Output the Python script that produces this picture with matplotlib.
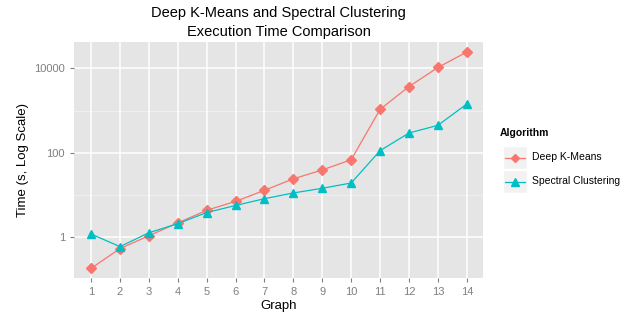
import matplotlib
matplotlib.use("Agg")
import matplotlib.pyplot as plt
from matplotlib.lines import Line2D
from matplotlib.patches import Rectangle

plt.rcParams['font.family'] = ['Liberation Sans', 'DejaVu Sans']

graphs = list(range(1, 15))
deep_kmeans = [0.18, 0.53, 1.07, 2.15, 4.3, 7.0, 12.8, 24, 39, 68, 1070, 3700, 10500, 24500]
spectral = [1.18, 0.59, 1.26, 2.07, 3.8, 5.6, 8.1, 11.1, 14.3, 19.1, 112, 293, 446, 1430]
y_ticks = [1, 100, 10000]
y_tick_labels = ["1", "100", "10000"]
series_names = ["Deep K-Means", "Spectral Clustering"]

red = "#F8766D"
cyan = "#00BFC4"
grey_txt = "#7F7F7F"

fig = plt.figure(figsize=(6.42, 3.2), dpi=100)
ax = fig.add_axes([74/642, 1-278/320, (483-74)/642, (278-42)/320])
ax.set_facecolor("#E5E5E5")
for s in ax.spines.values():
    s.set_visible(False)

ax.set_yscale("log")
ax.set_ylim(10**-0.973, 10**4.626)
ax.set_xlim(0.41, 14.56)

# grid: major and minor lines
for yv in [10, 1000]:
    ax.axhline(yv, color="#F2F2F2", lw=0.6, zorder=0)
for yv in y_ticks:
    ax.axhline(yv, color="white", lw=1.1, zorder=0)
for xv in graphs:
    ax.axvline(xv, color="white", lw=1.1, zorder=0)

ax.plot(graphs, deep_kmeans, color=red, lw=0.9, marker="D", ms=4.6, zorder=3)
ax.plot(graphs, spectral, color=cyan, lw=0.9, marker="^", ms=6.0, zorder=3)

ax.set_xticks(graphs)
ax.set_xticklabels([str(g) for g in graphs])
ax.set_yticks(y_ticks)
ax.set_yticklabels(y_tick_labels)
ax.yaxis.set_minor_locator(matplotlib.ticker.NullLocator())
ax.tick_params(axis="both", colors="#7F7F7F", labelcolor=grey_txt, labelsize=8, length=3, width=0.8)

ax.set_xlabel("Graph", fontsize=9.5, labelpad=2)
ax.set_ylabel("Time (s, Log Scale)", fontsize=9.5, labelpad=4)

fig.text(278.5/642, 1-13/320, "Deep K-Means and Spectral Clustering", ha="center", va="center", fontsize=10.5)
fig.text(278.5/642, 1-32/320, "Execution Time Comparison", ha="center", va="center", fontsize=10.5)

# legend
fig.text(500/642, 1-133/320, "Algorithm", fontsize=7.5, fontweight="bold", ha="left", va="center")
keys = [(red, "D", 4.2), (cyan, "^", 5.5)]
for i, (name, (c, m, ms)) in enumerate(zip(series_names, keys)):
    y0 = 146 + i * 24
    fig.patches.append(Rectangle((503/642, 1-(y0+23)/320), 24/642, 23/320,
                                 transform=fig.transFigure, facecolor="#F2F2F2", edgecolor="white", lw=1))
    yc = 1-(y0+11.5)/320
    fig.lines.append(Line2D([505/642, 525/642], [yc, yc], transform=fig.transFigure, color=c, lw=0.9))
    fig.lines.append(Line2D([515/642], [yc], transform=fig.transFigure, color=c, marker=m, ms=ms, lw=0))
    fig.text(532/642, yc, name, fontsize=7.5, ha="left", va="center")

fig.savefig("out.png", dpi=100)
